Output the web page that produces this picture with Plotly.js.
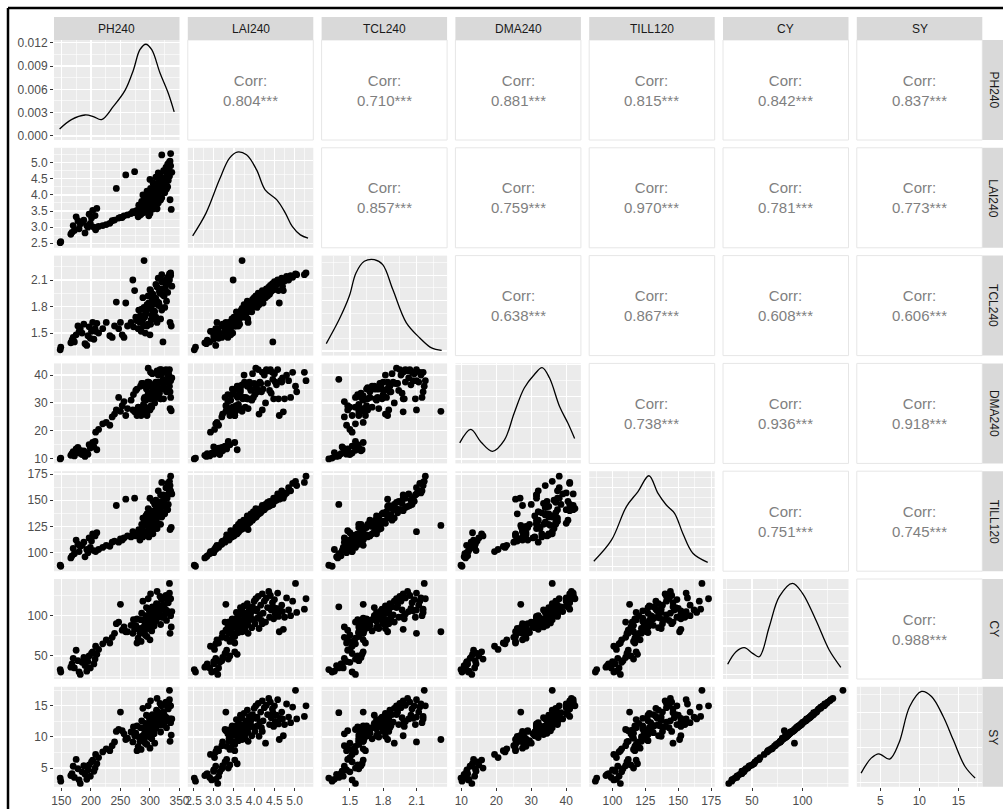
<!DOCTYPE html>
<html><head><meta charset="utf-8">
<script src="https://cdn.plot.ly/plotly-3.0.1.min.js"></script>
<style>html,body{margin:0;padding:0;background:#fff;}#chart{width:1003px;height:809px;}</style>
</head><body><div id="chart"></div>
<script>
// ---------------- DATA ----------------
const varNames = ['PH240','LAI240','TCL240','DMA240','TILL120','CY','SY'];

const PH240 = [148,149,166,168,170,172,175,178,180,182,185,188,190,193,195,197,199,201,203,205,207,210,
 208,213,220,226,232,236,243,240,247,250,253,259,256,262,274,268,272,271,278,
 280,283,285,288,290,292,276,295,298,300,302,284,287,293,297,305,310,281,289,299,304,312,336,278,294,301,308,291,296,303,286,306,314,318,334,290,298,307,311,300,316,293,304,309,320,288,302,313,297,325,306,317,295,310,322,328,301,315,330,308,319,324,312,322,305,327,316,331,300,320,326,310,333,318,329,314,337,323,332,327,335,330,334,333,335,320];
const LAI240 = [2.52,2.55,2.78,2.84,3.05,2.90,3.32,3.20,2.95,3.10,3.15,3.22,2.82,3.05,3.00,3.40,3.12,3.28,3.52,3.00,3.36,3.58,
 2.92,3.02,3.05,3.08,3.12,3.20,4.20,3.22,3.28,3.30,3.30,4.62,3.35,3.38,4.72,3.42,3.45,3.48,3.46,
 3.32,3.38,3.40,3.45,3.70,3.47,3.50,3.52,3.35,3.42,3.55,3.58,3.60,3.62,3.64,3.56,3.66,3.68,3.61,3.70,3.63,3.57,3.55,3.52,3.66,3.59,3.72,3.74,3.76,3.78,3.80,3.82,3.75,3.84,3.85,3.86,3.88,3.79,3.83,3.90,3.92,3.94,3.96,3.98,3.91,4.00,4.02,4.05,4.04,4.07,4.08,4.10,4.12,4.14,4.16,4.18,4.20,4.22,4.25,4.28,4.30,4.33,4.36,4.46,4.38,4.40,4.42,4.45,4.48,4.50,4.52,4.55,4.58,4.60,4.65,4.68,4.70,4.75,4.80,4.85,4.90,4.95,5.05,5.02,5.28,5.24];
const TCL240 = [1.31,1.34,1.39,1.42,1.45,1.40,1.48,1.58,1.52,1.55,1.50,1.60,1.38,1.36,1.47,1.57,1.44,1.52,1.62,1.43,1.55,1.61,
 1.52,1.50,1.55,1.62,1.47,1.45,1.85,1.58,1.55,1.62,1.48,1.84,1.45,1.58,1.98,1.62,1.57,2.10,1.65,
 1.55,1.62,1.52,1.66,2.32,1.50,1.68,1.58,1.60,1.48,1.65,1.70,1.63,1.72,1.60,1.74,1.68,1.76,1.58,1.78,1.66,1.62,1.58,1.64,1.72,1.60,1.74,1.68,1.80,1.70,1.77,1.73,1.82,1.66,1.62,1.79,1.84,1.75,1.86,1.78,1.81,1.74,1.88,1.83,1.76,1.90,1.80,1.85,1.92,1.79,1.87,1.95,1.82,1.89,1.93,1.86,1.98,1.84,1.96,1.90,2.00,1.92,2.02,1.40,1.94,2.04,1.97,2.06,1.99,2.08,2.00,2.05,2.10,1.98,2.07,2.12,2.03,2.09,2.14,2.10,2.15,2.13,2.16,2.17,2.18,2.16];
const DMA240 = [9.9,10.2,11.2,11.8,12.5,11.0,13.5,14.0,12.0,13.0,11.5,12.8,10.8,12.2,11.6,15.0,13.8,14.5,15.8,14.2,16.2,13.2,
 19.5,20.5,22.5,23.0,22.0,25.0,27.5,26.0,32.0,27.0,29.0,25.5,30.5,28.0,26.8,31.0,33.0,27.5,35.0,
 28.5,27.5,25.5,27.5,27.0,28.5,34.5,25.5,33.0,27.5,29.0,36.0,28.0,36.0,33.5,35.0,34.0,28.0,29.5,36.5,35.5,32.5,27.2,25.5,35.0,32.0,31.5,32.0,37.5,28.5,37.0,31.5,40.0,31.5,28.0,31.5,37.5,32.0,36.0,37.0,34.5,31.0,40.5,32.0,35.0,37.0,33.0,36.0,42.5,35.0,34.0,42.0,26.0,37.5,37.0,34.0,41.0,35.0,40.0,30.0,42.0,37.0,41.5,38.5,34.5,42.0,33.5,41.0,31.5,40.5,37.5,36.5,42.0,31.5,38.0,37.5,39.0,31.5,40.0,38.0,32.0,41.0,34.0,36.0,38.0,41.0];
const TILL120 = [88,87,95,97,104,99,112,108,101,106,107,110,96,103,100,114,105,111,118,102,116,119,
 101,103,105,107,106,110,145,111,110,113,112,151,114,116,152,115,118,120,117,
 117,112,116,115,126,119,116,118,115,121,124,118,123,120,127,118,129,122,127,123,126,123,124,117,127,124,123,131,130,125,127,131,128,127,122,128,133,124,135,129,137,135,131,139,134,133,138,134,142,137,136,141,137,141,138,143,140,144,141,146,143,148,144,146,149,145,147,146,152,149,152,150,156,155,152,159,156,155,157,162,159,166,164,168,173,167];
const CY = [33,30,36,40,47,35,57,44,30,27,42,48,38,31,43,50,35,53,55,40,46,52,
 62,58,65,70,66,73,90,78,92,114,82,80,86,80,83,88,95,78,96,
 72,78,68,85,80,76,88,74,92,70,90,95,82,100,86,104,94,84,79,106,91,97,86,66,110,83,93,88,99,81,103,96,112,89,78,94,108,87,115,100,104,85,111,95,98,118,90,106,121,108,97,124,84,101,113,94,127,103,118,92,122,110,130,111,98,125,107,116,96,120,102,109,128,99,106,113,105,98,122,107,100,118,104,140,121,108];
const SY = [3.4,2.9,3.8,4.1,5.3,3.5,6.4,4.9,3.1,2.5,4.4,5.4,4.0,3.2,4.7,5.5,3.7,6.0,6.3,4.5,5.0,5.7,
 7.2,6.7,7.6,8.1,7.8,8.6,10.9,9.2,11.2,14.0,11.0,9.6,10.5,9.8,10.2,10.8,11.6,9.2,11.8,
 8.5,9.3,8.0,10.2,9.6,9.0,10.6,8.8,11.1,8.2,10.9,11.5,9.8,12.2,10.4,12.8,11.4,10.0,9.4,13.0,11.0,11.8,10.3,7.8,13.5,9.9,11.3,10.7,12.0,9.7,12.6,11.7,13.8,10.8,9.3,11.5,13.3,10.5,14.3,12.3,12.7,10.2,13.6,11.6,11.9,14.6,10.9,13.0,15.0,13.2,11.8,15.4,10.1,12.4,14.0,11.5,15.8,12.6,14.7,9.0,15.1,13.6,16.2,13.9,12.0,15.6,13.1,14.5,11.7,15.0,12.5,13.5,16.0,12.1,13.0,14.0,12.9,12.0,15.3,13.2,12.3,14.8,12.9,17.5,15.0,13.3];

// density curves
const densPH_x   = [147,167,190,204,218,238,258,272,283,293,303,317,331,341];
const densPH_y   = [0.0009,0.0021,0.0027,0.0025,0.0021,0.0038,0.0059,0.0085,0.0111,0.0118,0.0111,0.0081,0.0055,0.0031];
const densLAI_x  = [2.48,2.81,3.14,3.39,3.58,3.81,4.06,4.27,4.56,4.77,4.94,5.14,5.33];
const densLAI_y  = [0.054,0.219,0.461,0.618,0.662,0.642,0.533,0.388,0.315,0.219,0.122,0.061,0.037];
const densTCL_x  = [1.287,1.403,1.494,1.555,1.63,1.72,1.796,1.887,2.009,2.13,2.236,2.327];
const densTCL_y  = [0.148,0.623,1.084,1.547,1.777,1.811,1.712,1.217,0.557,0.260,0.062,0.015];
const densDMA_x  = [9.54,12.7,15.6,18.9,22.3,25.1,28.0,30.9,33.1,35.2,38.1,40.5,42.4];
const densDMA_y  = [0.0102,0.0188,0.0108,0.0048,0.0119,0.0291,0.0452,0.0538,0.0582,0.0517,0.0334,0.0227,0.0130];
const densTILL_x = [85.8,99.2,110.6,119.4,127.7,134.5,140.9,147.2,153.5,161.1,172.4];
const densTILL_y = [0.00138,0.00669,0.0152,0.0190,0.0230,0.0186,0.0156,0.0135,0.0084,0.0034,0.0011];
const densCY_x   = [25.9,34.2,42.4,50.6,57.2,67.1,77,90.1,100,113.2,126.4,137.9];
const densCY_y   = [0.00179,0.0040,0.00471,0.00372,0.00312,0.0084,0.01369,0.01604,0.01428,0.00958,0.0043,0.00126];
const densSY_x   = [2.55,3.84,4.82,6.2,7.39,8.77,10.28,11.56,13.06,14.34,15.85,17.14];
const densSY_y   = [0.0131,0.0345,0.0407,0.0331,0.056,0.1083,0.1298,0.1226,0.094,0.0607,0.0225,0.006];

// correlation labels, upper triangle by row
const corrPH   = ['0.804***','0.710***','0.881***','0.815***','0.842***','0.837***'];
const corrLAI  = ['0.857***','0.759***','0.970***','0.781***','0.773***'];
const corrTCL  = ['0.638***','0.867***','0.608***','0.606***'];
const corrDMA  = ['0.738***','0.936***','0.918***'];
const corrTILL = ['0.751***','0.745***'];
const corrCY   = ['0.988***'];

// ---------------- BUILD ----------------
const vars = [PH240, LAI240, TCL240, DMA240, TILL120, CY, SY];
const densX = [densPH_x,densLAI_x,densTCL_x,densDMA_x,densTILL_x,densCY_x,densSY_x];
const densY = [densPH_y,densLAI_y,densTCL_y,densDMA_y,densTILL_y,densCY_y,densSY_y];
const corrRows = [corrPH,corrLAI,corrTCL,corrDMA,corrTILL,corrCY];

const W=1003, H=809;
const colL = j => 54 + 133.8*j, colW = 125.5;
const rowT = i => 40 + 107.8*i, rowH = 100;
const px = x => x/W, py = y => 1 - y/H;
const FONT = 'Liberation Sans, Arial, Helvetica, sans-serif';

const varAxis = [
  {range:[137.5,350], tick0:150, dtick:50, fmt:''},
  {range:[2.36,5.46], tick0:2.5, dtick:0.5, fmt:'.1f'},
  {range:[1.245,2.376], tick0:1.5, dtick:0.3, fmt:'.1f'},
  {range:[8.3,44.2], tick0:10, dtick:10, fmt:''},
  {range:[82.3,177.7], tick0:100, dtick:25, fmt:''},
  {range:[21.3,145.5], tick0:50, dtick:50, fmt:''},
  {range:[2.0,18.06], tick0:5, dtick:5, fmt:''}
];
const densAxis = [
  {range:[-0.00052,0.01235], tick0:0, dtick:0.003, fmt:'.3f'},
  {range:[-0.033,0.693], tick0:0, dtick:0.2, fmt:''},
  {range:[-0.09,1.89], tick0:0, dtick:0.5, fmt:''},
  {range:[-0.0029,0.0609], tick0:0, dtick:0.02, fmt:''},
  {range:[-0.00115,0.02415], tick0:0, dtick:0.005, fmt:''},
  {range:[-0.0008,0.0168], tick0:0, dtick:0.005, fmt:''},
  {range:[-0.0065,0.1365], tick0:0, dtick:0.05, fmt:''}
];

function mkAxis(spec, domain, anchor, showLabels){
  return {
    domain: domain, anchor: anchor, range: spec.range, autorange:false,
    tickmode:'linear', tick0: spec.tick0, dtick: spec.dtick, tickformat: spec.fmt,
    showgrid:true, gridcolor:'#FFFFFF', gridwidth:1.3, zeroline:false, showline:false,
    ticks: showLabels ? 'outside' : '', ticklen:3, tickwidth:1, tickcolor:'#333333',
    showticklabels: showLabels,
    tickfont:{family:FONT, size:12, color:'#4D4D4D'},
    minor:{tick0: spec.tick0, dtick: spec.dtick/2, showgrid:true, gridcolor:'#FFFFFF', gridwidth:0.6},
    fixedrange:true
  };
}

const layout = {
  width:W, height:H, margin:{l:0,r:0,t:0,b:0}, showlegend:false,
  paper_bgcolor:'#FFFFFF', plot_bgcolor:'#EBEBEB',
  font:{family:FONT},
  shapes:[], annotations:[]
};

for(let j=0;j<7;j++){
  const anchor = (j<6) ? 'y7' : 'y14';
  layout['xaxis'+(j+1)] = mkAxis(varAxis[j], [px(colL(j)), px(colL(j)+colW)], anchor, true);
}
for(let i=1;i<7;i++){
  layout['yaxis'+(i+1)] = mkAxis(varAxis[i], [py(rowT(i)+rowH), py(rowT(i))], 'x1', true);
}
for(let i=0;i<7;i++){
  layout['yaxis'+(8+i)] = mkAxis(densAxis[i], [py(rowT(i)+rowH), py(rowT(i))], 'x'+(i+1), i===0);
}

const traces = [];
for(let i=0;i<7;i++){
  for(let j=0;j<i;j++){
    traces.push({type:'scatter', mode:'markers', x:vars[j], y:vars[i],
      xaxis:'x'+(j+1), yaxis:'y'+(i+1), hoverinfo:'skip',
      marker:{color:'#000000', size:6.8, line:{width:0}}});
  }
  traces.push({type:'scatter', mode:'lines', x:densX[i], y:densY[i],
    xaxis:'x'+(i+1), yaxis:'y'+(8+i), hoverinfo:'skip',
    line:{color:'#000000', width:1.3, shape:'spline', smoothing:1}});
}

for(let i=0;i<6;i++){
  for(let j=i+1;j<7;j++){
    const x0=colL(j), x1=colL(j)+colW, y0=rowT(i), y1=rowT(i)+rowH;
    layout.shapes.push({type:'rect', xref:'paper', yref:'paper', x0:px(x0), x1:px(x1), y0:py(y1), y1:py(y0),
      fillcolor:'#FFFFFF', line:{color:'#E6E6E6', width:1}, layer:'below'});
    layout.annotations.push({xref:'paper', yref:'paper', x:px((x0+x1)/2), y:py((y0+y1)/2),
      xanchor:'center', yanchor:'middle', showarrow:false,
      text:'Corr:<br>'+corrRows[i][j-i-1], font:{family:FONT, size:15, color:'#7F7F7F'}});
  }
}
for(let j=0;j<7;j++){
  layout.shapes.push({type:'rect', xref:'paper', yref:'paper', x0:px(colL(j)), x1:px(colL(j)+colW),
    y0:py(40), y1:py(17), fillcolor:'#D9D9D9', line:{width:0}});
  layout.annotations.push({xref:'paper', yref:'paper', x:px(colL(j)+colW/2), y:py(28.5),
    xanchor:'center', yanchor:'middle', showarrow:false, text:varNames[j],
    font:{family:FONT, size:12, color:'#1A1A1A'}});
}
for(let i=0;i<7;i++){
  layout.shapes.push({type:'rect', xref:'paper', yref:'paper', x0:px(982.5), x1:px(1006),
    y0:py(rowT(i)+rowH), y1:py(rowT(i)), fillcolor:'#D9D9D9', line:{width:0}});
  layout.annotations.push({xref:'paper', yref:'paper', x:px(993.5), y:py(rowT(i)+rowH/2),
    xanchor:'center', yanchor:'middle', showarrow:false, text:varNames[i], textangle:90,
    font:{family:FONT, size:12, color:'#1A1A1A'}});
}
layout.shapes.push({type:'line', xref:'paper', yref:'paper', x0:px(8), x1:px(1003), y0:py(8), y1:py(8), line:{color:'#000000', width:2.5}});
layout.shapes.push({type:'line', xref:'paper', yref:'paper', x0:px(8), x1:px(8), y0:py(8), y1:py(809), line:{color:'#000000', width:2.5}});

Plotly.newPlot('chart', traces, layout, {displayModeBar:false, staticPlot:true});
</script>
</body></html>
